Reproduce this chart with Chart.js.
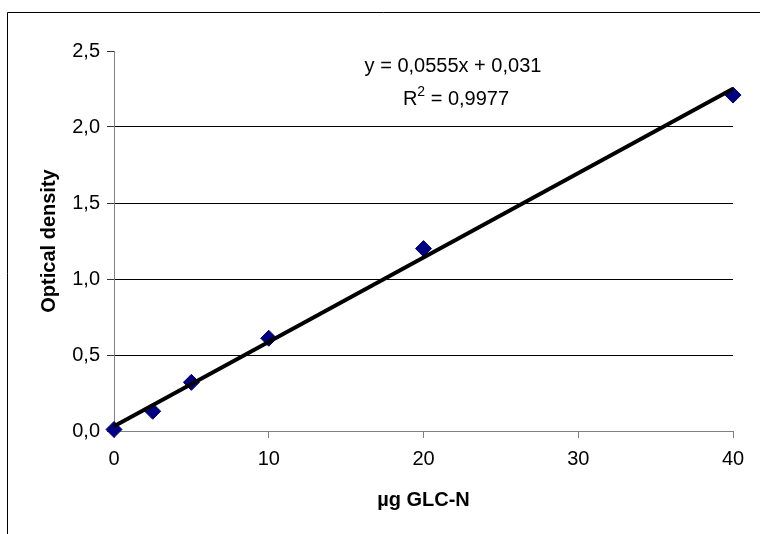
<!DOCTYPE html>
<html>
<head>
<meta charset="utf-8">
<script src="https://cdn.jsdelivr.net/npm/chart.js@4.4.1/dist/chart.umd.min.js"></script>
<style>
  html, body { margin: 0; padding: 0; background: #fff; }
  #wrap { width: 760px; height: 534px; position: relative; }
</style>
</head>
<body>
<div id="wrap"><canvas id="myChart" width="760" height="534"></canvas></div>
<script>

// calibration points
const glcN = [0, 2.5, 5, 10, 20, 40];
const density = [0.01, 0.13, 0.32, 0.61, 1.20, 2.21];

// trendline as printed on the chart
const slope = 0.0555;
const intercept = 0.031;
const rSquared = 0.9977;

const xTicks = [0, 10, 20, 30, 40];
const yTicks = [0, 0.5, 1.0, 1.5, 2.0, 2.5];

const FONT = "'Liberation Sans', Arial, sans-serif";

function comma(v, digits) {
    return v.toFixed(digits).replace('.', ',');
}

const points = glcN.map((x, i) => ({ x: x, y: density[i] }));
const xMin = xTicks[0];
const xMax = xTicks[xTicks.length - 1];
const trend = [xMin, xMax].map(x => ({ x: x, y: slope * x + intercept }));

// white page + the outer frame of the chart object
const framePlugin = {
    id: 'frame',
    beforeDraw(chart) {
        const c = chart.ctx;
        c.save();
        c.fillStyle = '#fff';
        c.fillRect(0, 0, chart.width, chart.height);
        c.strokeStyle = '#000';
        c.lineWidth = 1;
        c.beginPath();
        c.moveTo(7.5, chart.height);
        c.lineTo(7.5, 12.5);
        c.lineTo(chart.width, 12.5);
        c.stroke();
        c.restore();
    }
};

// the equation box Excel puts next to the trendline
const equationPlugin = {
    id: 'equation',
    afterDraw(chart) {
        const c = chart.ctx;
        const cx = 453;
        c.save();
        c.fillStyle = '#000';
        c.font = '20px ' + FONT;
        c.textAlign = 'center';
        c.textBaseline = 'alphabetic';
        c.fillText('y = ' + comma(slope, 4) + 'x + ' + comma(intercept, 3), cx, 72);

        // second line: R, superscript 2, rest
        const rest = ' = ' + comma(rSquared, 4);
        const wR = c.measureText('R').width;
        const wRest = c.measureText(rest).width;
        c.font = '14px ' + FONT;
        const w2 = c.measureText('2').width;
        const x0 = cx + 3 - (wR + w2 + wRest) / 2;
        c.textAlign = 'left';
        c.font = '20px ' + FONT;
        c.fillText('R', x0, 105);
        c.font = '14px ' + FONT;
        c.fillText('2', x0 + wR, 96);
        c.font = '20px ' + FONT;
        c.fillText(rest, x0 + wR + w2, 105);
        c.restore();
    }
};

const data = {
    datasets: [
        {
            label: 'trend',
            type: 'line',
            data: trend,
            borderColor: '#000',
            borderWidth: 4,
            pointRadius: 0,
            fill: false,
            clip: false,
            order: 0
        },
        {
            label: 'OD',
            data: points,
            pointStyle: 'rectRot',
            pointRadius: 8,
            pointHoverRadius: 8,
            backgroundColor: '#000080',
            borderColor: '#000080',
            borderWidth: 1,
            clip: false,
            order: 1
        }
    ]
};

const config = {
    type: 'scatter',
    data: data,
    options: {
        responsive: false,
        animation: false,
        layout: {
            padding: { left: 0, right: 27, top: 51, bottom: 0 }
        },
        plugins: {
            legend: { display: false },
            title: { display: false },
            tooltip: { enabled: false }
        },
        scales: {
            x: {
                type: 'linear',
                min: xMin,
                max: xMax,
                afterBuildTicks(scale) {
                    scale.ticks = xTicks.map(v => ({ value: v }));
                },
                afterFit(scale) {
                    scale.height = 103;
                },
                border: { color: '#808080', width: 1 },
                grid: {
                    drawOnChartArea: false,
                    drawTicks: true,
                    tickLength: 7,
                    tickColor: '#808080'
                },
                ticks: {
                    color: '#000',
                    padding: 9,
                    maxRotation: 0,
                    font: { family: FONT, size: 20 },
                    callback: v => String(v)
                },
                title: {
                    display: true,
                    text: 'µg GLC-N',
                    color: '#000',
                    font: { family: FONT, size: 20, weight: 'bold' },
                    padding: { top: 0, bottom: 22 }
                }
            },
            y: {
                type: 'linear',
                min: yTicks[0],
                max: yTicks[yTicks.length - 1],
                afterBuildTicks(scale) {
                    scale.ticks = yTicks.map(v => ({ value: v }));
                },
                afterFit(scale) {
                    scale.width = 114;
                },
                border: { color: '#808080', width: 1 },
                grid: {
                    color: ctx => (ctx.tick && (ctx.tick.value === 0 || ctx.tick.value === 2.5)) ? 'rgba(0,0,0,0)' : '#000',
                    lineWidth: 1,
                    tickLength: 7,
                    tickColor: '#333'
                },
                ticks: {
                    color: '#000',
                    padding: 7,
                    font: { family: FONT, size: 20 },
                    callback: v => comma(v, 1)
                },
                title: {
                    display: true,
                    text: 'Optical density',
                    color: '#000',
                    font: { family: FONT, size: 20, weight: 'bold' },
                    padding: { top: 37, bottom: 0 }
                }
            }
        }
    },
    plugins: [framePlugin, equationPlugin]
};

const ctx = document.getElementById('myChart');
let myChart = new Chart(ctx, config);

</script>
</body>
</html>
